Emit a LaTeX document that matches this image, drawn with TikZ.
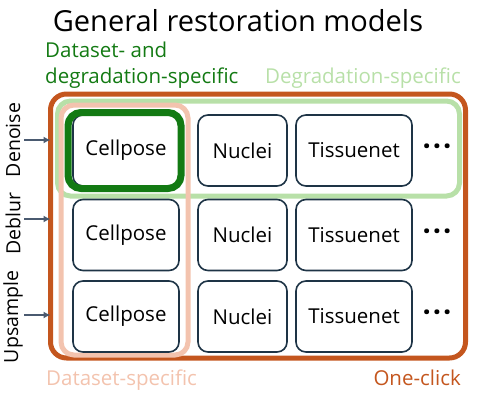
\documentclass[tikz,border=0pt]{standalone}
\usepackage{fontspec}
\setmainfont{Open Sans}
\usetikzlibrary{arrows.meta}
\definecolor{oneclick}{HTML}{C4561E}
\definecolor{degrad}{HTML}{B8E0A8}
\definecolor{dataset}{HTML}{F3C3AE}
\definecolor{dsdeg}{HTML}{137A13}
\definecolor{boxc}{HTML}{1E3446}
\definecolor{arrc}{HTML}{4A5A70}
\tikzset{
  frame/.style={draw, rounded corners=#1, inner sep=0pt, outer sep=0pt},
  model/.style={draw=boxc, line width=1.6pt, rounded corners=10pt, minimum height=71pt, inner sep=0pt, outer sep=0pt, font=\fontsize{20.5}{24}\selectfont},
  lab/.style={font=\fontsize{20.5}{24}\selectfont, inner sep=0pt},
  side/.style={rotate=90, font=\fontsize{19.5}{23}\selectfont, inner sep=0pt},
  arr/.style={draw=arrc, line width=1.6pt, -{Latex[length=7pt,width=7pt]}},
  dots/.style={font=\fontsize{29}{30}\selectfont\bfseries, inner sep=0pt}
}
\begin{document}
\begin{tikzpicture}[x=1pt,y=-1pt]
\useasboundingbox (0,0) rectangle (480,413);
\node[font=\fontsize{29}{34}\selectfont, inner sep=0pt, anchor=base] (title) at (238,31) {General restoration models};
\node[lab, text=dsdeg, anchor=base west] (l1a) at (45,57.5) {Dataset- and};
\node[lab, text=dsdeg, anchor=base west] (l1b) at (45,83) {degradation-specific};
\node[lab, text=degrad, anchor=base east] (l2) at (461,83) {Degradation-specific};
\node[lab, text=dataset, anchor=base west] (l3) at (46,385) {Dataset-specific};
\node[lab, text=oneclick, anchor=base east] (l4) at (461,385) {One-click};
% frames
\node[frame=16pt, draw=oneclick, line width=5pt, minimum width=415pt, minimum height=264pt] (oc) at (258,226) {};
\node[frame=13pt, draw=degrad, line width=5pt, minimum width=402pt, minimum height=95pt] (dg) at (258.5,148.5) {};
\node[frame=13pt, draw=dataset, line width=5pt, minimum width=127pt, minimum height=250pt] (ds) at (124.5,230) {};
% boxes
\foreach \r/\y in {1/150.5,2/235,3/316.5}{
  \node[model, minimum width=106pt] (c\r) at (126,\y) {Cellpose};
  \node[model, minimum width=89pt] (n\r) at (242.5,\y) {Nuclei};
  \node[model, minimum width=116pt] (t\r) at (354,\y) {Tissuenet};
  \node[dots] (d\r) at (437,\y) {·\kern2pt·\kern2pt·};
}
\node[frame=13pt, draw=dsdeg, line width=7pt, minimum width=113pt, minimum height=76pt] (dd) at (124.5,150.5) {};
% side labels
\node[side] (s1) at (13,140) {Denoise};
\node[side] (s2) at (13,224) {Deblur};
\node[side] (s3) at (13,317) {Upsample};
\coordinate (a1) at (24,140);
\coordinate (a2) at (24,219);
\coordinate (a3) at (24,315);
\foreach \i in {1,2,3}{ \draw[arr] (a\i) -- (a\i -| oc.west); }
\end{tikzpicture}
\end{document}
